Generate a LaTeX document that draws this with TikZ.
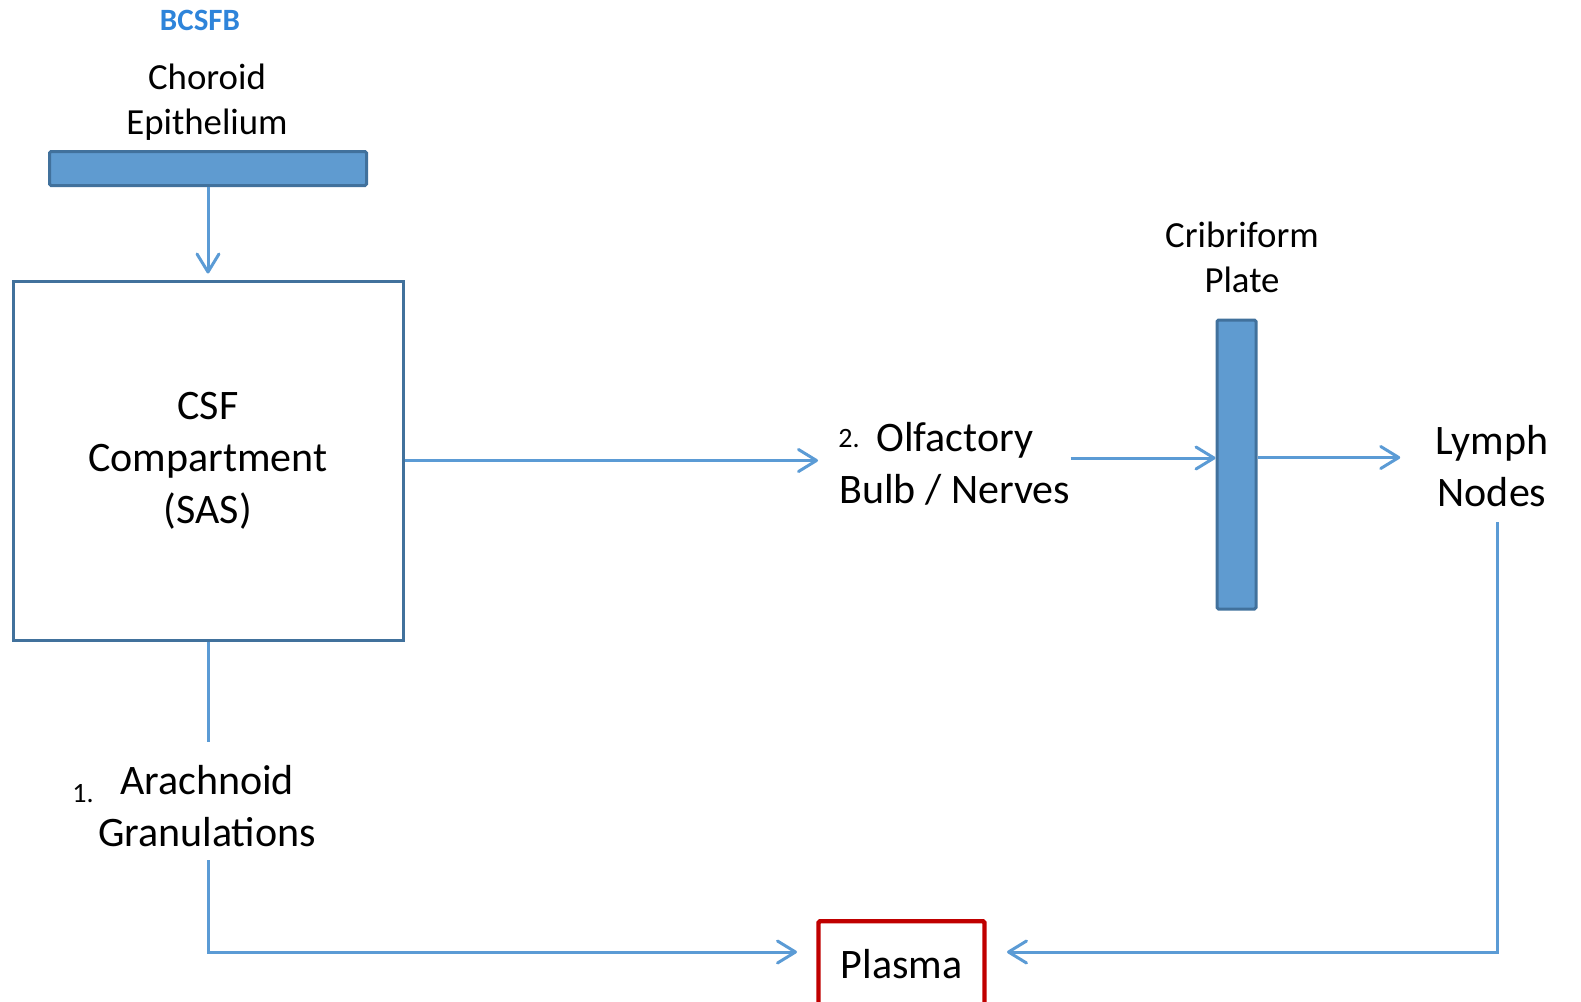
\documentclass[tikz,border=0pt]{standalone}
\usepackage{fontspec}
\setmainfont{Carlito}
\usetikzlibrary{arrows.meta}
\definecolor{arrowblue}{RGB}{91,155,213}
\definecolor{barfill}{RGB}{95,155,208}
\definecolor{barborder}{RGB}{65,113,156}
\definecolor{plasmared}{RGB}{192,0,0}
\definecolor{titleblue}{RGB}{46,132,218}
\begin{document}
\begin{tikzpicture}[x=0.5pt,y=-0.5pt,
  bar/.style={draw=barborder, fill=barfill, line width=1.5pt, rounded corners=0.8pt, inner sep=0pt},
  bigbox/.style={draw=barborder, fill=white, line width=1.5pt, inner sep=0pt, align=center, font=\fontsize{21}{26}\selectfont},
  lbl/.style={inner sep=0pt, align=center, font=\fontsize{21}{26}\selectfont},
  smalllbl/.style={inner sep=0pt, align=center, font=\fontsize{18.4}{22.5}\selectfont},
  numlbl/.style={inner sep=0pt, anchor=base west, font=\fontsize{14}{17}\selectfont},
  flow/.style={draw=arrowblue, line width=1.5pt, -{Straight Barb[length=9pt,width=11pt,round]}},
  plainflow/.style={draw=arrowblue, line width=1.5pt},
  plasmabox/.style={draw=plasmared, line width=2.2pt, rounded corners=0.8pt, inner sep=0pt, font=\fontsize{21}{26}\selectfont},
]
\useasboundingbox (0,0) rectangle (1581,1002);
% nodes
\node[font=\bfseries\fontsize{15.5}{19}\selectfont, text=titleblue, inner sep=0pt] (bcsfb) at (200,20) {BCSFB};
\node[smalllbl] (choroidlbl) at (207,102) {Choroid\\Epithelium};
\node[bar, minimum width=158.5pt, minimum height=17pt] (choroid) at (208,168.5) {};
\node[bigbox, minimum width=195pt, minimum height=179.5pt] (csf) at (208,460.5) {CSF\\Compartment\\(SAS)};
\node[smalllbl] (cribrilbl) at (1242,257) {Cribriform\\Plate};
\node[bar, minimum width=19.5pt, minimum height=144.5pt] (cribri) at (1236.5,464.5) {};
\node[lbl, align=left, anchor=west] (olf) at (839,464) {\hspace*{18.5pt}Olfactory\\Bulb / Nerves};
\node[numlbl] (olfnum) at (838,447) {2.};
\node[lbl] (lymph) at (1492,466) {Lymph\\Nodes};
\node[lbl] (arach) at (207,806) {Arachnoid\\Granulations};
\node[numlbl] (arachnum) at (72,802) {1.};
\node[plasmabox, minimum width=83pt, minimum height=46pt, anchor=north] (plasma) at (901.5,919) {\raisebox{3pt}{Plasma}};
% free ends
\coordinate (arachtop) at (208,742);
\coordinate (arachbot) at (208,860);
\coordinate (plasmaL) at (797,952);
\coordinate (plasmaR) at (1007,952);
\coordinate (lymphout) at (1497,522);
% connectors
\draw[flow] (choroid.south) -- ([yshift=3pt]csf.north);
\draw[flow] (csf.east) -- ([xshift=-10.5pt]olf.west |- csf.east);
\draw[flow] ([yshift=3pt]olf.east) -- ([yshift=3pt]olf.east -| cribri.west);
\draw[flow] ([yshift=3.5pt]cribri.east) -- ([xshift=-17.5pt,yshift=3.5pt]cribri.east -| lymph.west);
\draw[plainflow] (csf.south) -- (arachtop);
\draw[flow] (arachbot) |- (plasmaL);
\draw[flow] (lymphout) |- (plasmaR);
\end{tikzpicture}
\end{document}
